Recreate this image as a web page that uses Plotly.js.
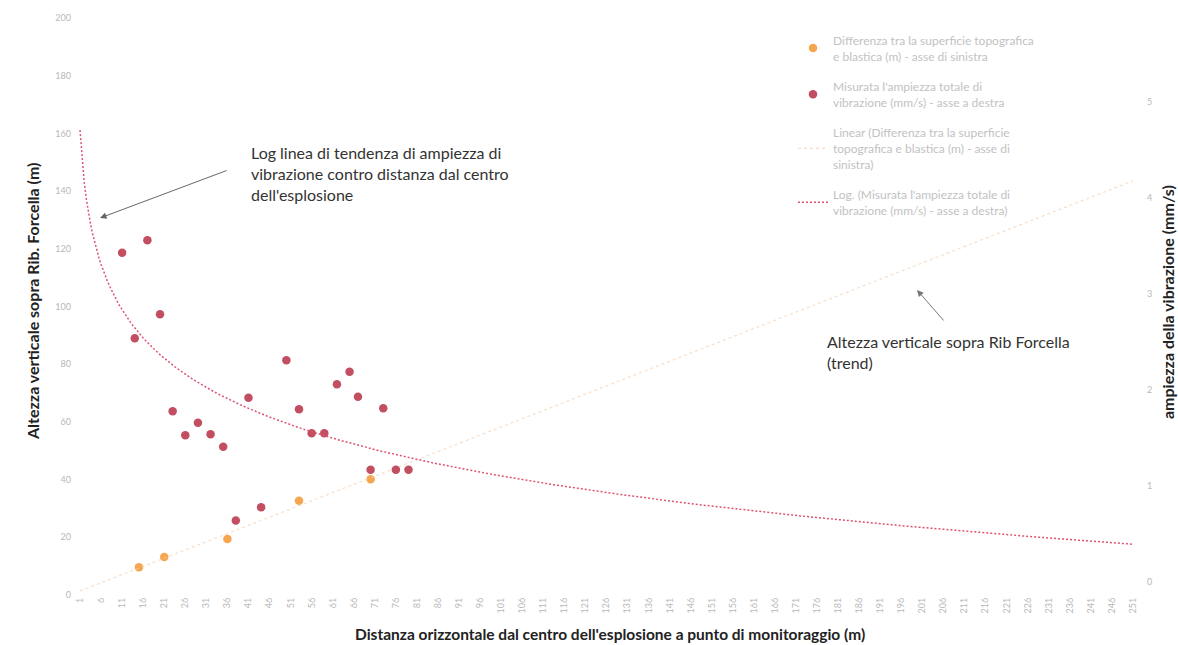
<!DOCTYPE html>
<html>
<head>
<meta charset="utf-8">
<script src="https://cdn.plot.ly/plotly-3.0.1.min.js"></script>
<style>html,body{margin:0;padding:0;background:#fff;}#chart{width:1178px;height:645px;}</style>
</head>
<body>
<div id="chart"></div>
<script>
// X tick labels (distance, m)
const xTicks = [1,6,11,16,21,26,31,36,41,46,51,56,61,66,71,76,81,86,91,96,101,106,111,116,121,126,131,136,141,146,151,156,161,166,171,176,181,186,191,196,201,206,211,216,221,226,231,236,241,246,251];

// Orange series: height difference (m), left axis
const heightX = [15, 21, 36, 53, 70];
const heightY = [9.6, 13.2, 19.4, 32.7, 40.1];

// Red series: measured vibration amplitude (mm/s), right axis
const vibX = [11, 14, 17, 20, 23, 26, 29, 32, 35, 38, 41, 44, 50, 53, 56, 59, 62, 65, 67, 70, 73, 76, 79];
const vibY = [3.43, 2.54, 3.56, 2.79, 1.78, 1.53, 1.66, 1.54, 1.41, 0.64, 1.92, 0.78, 2.31, 1.80, 1.55, 1.55, 2.06, 2.19, 1.93, 1.17, 1.81, 1.17, 1.17];

const leftTicks = [0,20,40,60,80,100,120,140,160,180,200];
const rightTicks = [0,1,2,3,4,5];

// Least-squares trendlines (as the spreadsheet computes them)
function fit(xs, ys) {
  const n = xs.length;
  const mx = xs.reduce((a,b)=>a+b,0)/n, my = ys.reduce((a,b)=>a+b,0)/n;
  let sxy = 0, sxx = 0;
  for (let i=0;i<n;i++){ sxy += (xs[i]-mx)*(ys[i]-my); sxx += (xs[i]-mx)*(xs[i]-mx); }
  const a = sxy/sxx; return {a: a, b: my - a*mx};
}
const lin = fit(heightX, heightY);
const lg = fit(vibX.map(Math.log), vibY);
const xStart = xTicks[0], xEnd = xTicks[xTicks.length-1];
const linX = [xStart, xEnd];
const linY = linX.map(x => lin.a*x + lin.b);
const logX = [];
for (let x = xStart; x <= xEnd; x += 0.5) logX.push(x);
const logY = logX.map(x => lg.a*Math.log(x) + lg.b);

const fontFam = 'Lato, "Open Sans", sans-serif';

const traces = [
  {x: heightX, y: heightY, type:'scatter', mode:'markers', yaxis:'y', legendgroup:'a',
   name:'Differenza tra la superficie topografica<br>e blastica (m) - asse di sinistra',
   marker:{color:'#F5A650', size:8.5}},
  {x: vibX, y: vibY, type:'scatter', mode:'markers', yaxis:'y2', legendgroup:'b',
   name:"Misurata l'ampiezza totale di<br>vibrazione (mm/s) - asse a destra",
   marker:{color:'#C24E62', size:8.5}},
  {x: linX, y: linY, type:'scatter', mode:'lines', yaxis:'y', legendgroup:'c',
   name:'Linear (Differenza tra la superficie<br>topografica e blastica (m) - asse di<br>sinistra)',
   line:{color:'rgba(245,205,170,0.65)', width:1.2, dash:'dot'}},
  {x: logX, y: logY, type:'scatter', mode:'lines', yaxis:'y2', legendgroup:'d',
   name:"Log. (Misurata l'ampiezza totale di<br>vibrazione (mm/s) - asse a destra)",
   line:{color:'#DE5470', width:1.5, dash:'2px,2px'}}
];

const L = 72, R = 32, T = 18, B = 50;
const W = 1178 - L - R, H = 645 - T - B;
const px = v => (v - L)/W;
const py = v => (645 - B - v)/H;

const layout = {
  width:1178, height:645,
  margin:{l:L, r:R, t:T, b:B},
  paper_bgcolor:'#fff', plot_bgcolor:'#fff',
  font:{family:fontFam, color:'#333'},
  showlegend:true,
  legend:{x:px(793), y:py(26), xanchor:'left', yanchor:'top',
          font:{size:12, color:'#c2c2c2', family:fontFam}, bgcolor:'rgba(0,0,0,0)', tracegroupgap:12},
  xaxis:{range:[-0.9, 254.1], tickmode:'array', tickvals:xTicks, ticktext:xTicks.map(String),
         tickangle:-90, tickfont:{size:9, color:'#b8b8b8'}, showgrid:false, zeroline:false,
         showline:false, ticks:'', automargin:false},
  yaxis:{range:[0,200], tickmode:'array', tickvals:leftTicks, tickfont:{size:9, color:'#b8b8b8'},
         showgrid:false, zeroline:false, showline:false, ticks:'', automargin:false},
  yaxis2:{range:[-0.135, 5.875], overlaying:'y', side:'right', tickmode:'array', tickvals:rightTicks,
          tickfont:{size:9, color:'#b8b8b8'}, showgrid:false, zeroline:false, showline:false, ticks:'', automargin:false},
  annotations:[
    {xref:'paper', yref:'paper', x:px(32), y:py(302), xanchor:'center', yanchor:'middle',
     text:'<b>Altezza verticale sopra Rib. Forcella (m)</b>',
     textangle:-90, showarrow:false, font:{size:16, color:'#222', family:fontFam}},
    {xref:'paper', yref:'paper', x:px(1167), y:py(302), xanchor:'center', yanchor:'middle',
     text:'<b>ampiezza della vibrazione (mm/s)</b>',
     textangle:-90, showarrow:false, font:{size:16, color:'#222', family:fontFam}},
    {xref:'paper', yref:'paper', x:px(610), y:py(634), xanchor:'center', yanchor:'middle',
     text:"<b>Distanza orizzontale dal centro dell'esplosione a punto di monitoraggio (m)</b>",
     showarrow:false, font:{size:15.5, color:'#222', family:fontFam}},
    {xref:'paper', yref:'paper', x:px(249), y:py(141), xanchor:'left', yanchor:'top', align:'left',
     text:"Log linea di tendenza di ampiezza di<br>vibrazione contro distanza dal centro<br>dell'esplosione",
     showarrow:false, font:{size:16, color:'#333', family:fontFam}},
    {xref:'paper', yref:'paper', x:px(100), y:py(218), ax:128, ay:-48, axref:'pixel', ayref:'pixel',
     text:'', showarrow:true, arrowhead:2, arrowsize:1.3, arrowwidth:1, arrowcolor:'#666'},
    {xref:'paper', yref:'paper', x:px(825), y:py(330), xanchor:'left', yanchor:'top', align:'left',
     text:'Altezza verticale sopra Rib Forcella<br>(trend)',
     showarrow:false, font:{size:16, color:'#333', family:fontFam}},
    {xref:'paper', yref:'paper', x:px(917), y:py(290), ax:28, ay:32, axref:'pixel', ayref:'pixel',
     text:'', showarrow:true, arrowhead:2, arrowsize:1.3, arrowwidth:1, arrowcolor:'#777'}
  ]
};

Plotly.newPlot('chart', traces, layout, {displayModeBar:false, staticPlot:true});
</script>
</body>
</html>
